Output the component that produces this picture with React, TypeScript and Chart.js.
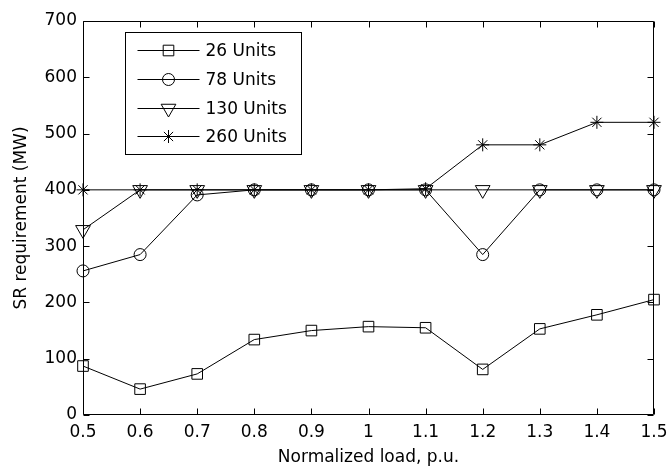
import React, { useEffect, useRef } from 'react';
import { Chart, registerables } from 'chart.js';
import { drawPoint } from 'chart.js/helpers';

Chart.register(...registerables);

const loadLabels = ['0.5', '0.6', '0.7', '0.8', '0.9', '1', '1.1', '1.2', '1.3', '1.4', '1.5'];
const units26 = [87, 46, 73, 134, 150, 157, 155, 81, 153, 178, 205];
const units78 = [256, 285, 391, 400, 400, 400, 400, 285, 400, 400, 400];
const units130 = [329, 400, 400, 400, 400, 400, 400, 400, 400, 400, 400];
const units260 = [400, 400, 400, 400, 400, 400, 402, 480, 480, 520, 520];
const seriesNames = ['26 Units', '78 Units', '130 Units', '260 Units'];

const FONT = "'DejaVu Sans', sans-serif";

const framePlugin = {
  id: 'frameTicks',
  beforeDatasetsDraw(chart: any) {
    const { ctx, chartArea: a, scales } = chart;
    const x = scales.x;
    const y = scales.y;
    const L = Math.round(a.left) + 0.5;
    const R = Math.round(a.right) - 0.5;
    const T = Math.round(a.top) + 0.5;
    const B = Math.round(a.bottom) - 0.5;
    ctx.save();
    ctx.strokeStyle = '#000';
    ctx.lineWidth = 1;
    ctx.beginPath();
    ctx.rect(L, T, R - L, B - T);
    const tl = 6;
    loadLabels.forEach((_, i) => {
      const px = Math.round(x.getPixelForValue(i)) + 0.5;
      ctx.moveTo(px, B);
      ctx.lineTo(px, B - tl);
      ctx.moveTo(px, T);
      ctx.lineTo(px, T + tl);
    });
    y.ticks.forEach((t: any) => {
      const py = Math.round(y.getPixelForValue(t.value)) + 0.5;
      ctx.moveTo(L, py);
      ctx.lineTo(L + tl, py);
      ctx.moveTo(R, py);
      ctx.lineTo(R - tl, py);
    });
    ctx.stroke();
    ctx.restore();
  },
};

const legendPlugin = {
  id: 'insideLegend',
  afterDraw(chart: any) {
    const { ctx, chartArea: a } = chart;
    const left = Math.round(a.left + 42) + 0.5;
    const top = Math.round(a.top + 11) + 0.5;
    const w = 176;
    const h = 122;
    ctx.save();
    ctx.fillStyle = '#fff';
    ctx.strokeStyle = '#000';
    ctx.lineWidth = 1;
    ctx.fillRect(left, top, w, h);
    ctx.strokeRect(left, top, w, h);
    ctx.font = `17px ${FONT}`;
    ctx.textBaseline = 'middle';
    ctx.textAlign = 'left';
    chart.data.datasets.forEach((ds: any, i: number) => {
      const cy = Math.round(top + 17.5 + i * 28.8) + 0.5;
      ctx.strokeStyle = '#000';
      ctx.lineWidth = 1;
      ctx.beginPath();
      ctx.moveTo(left + 12, cy);
      ctx.lineTo(left + 74, cy);
      ctx.stroke();
      ctx.fillStyle = 'rgba(0,0,0,0)';
      drawPoint(ctx, {
        pointStyle: ds.pointStyle,
        radius: ds.pointRadius,
        rotation: ds.pointRotation || 0,
        borderWidth: 1,
      } as any, left + 43, cy);
      ctx.fillStyle = '#000';
      ctx.fillText(ds.label, left + 80, cy + 1);
    });
    ctx.restore();
  },
};

export default function App() {
  const ref = useRef<HTMLCanvasElement | null>(null);
  useEffect(() => {
    if (!ref.current) return;
    const common = {
      borderColor: '#000',
      borderWidth: 1,
      pointBorderColor: '#000',
      pointBackgroundColor: 'rgba(0,0,0,0)',
      pointBorderWidth: 1,
      tension: 0,
      clip: false as any,
    };
    const chart = new Chart(ref.current, {
      type: 'line',
      data: {
        labels: loadLabels,
        datasets: [
          { ...common, label: seriesNames[0], data: units26, pointStyle: 'rect', pointRadius: 7.5 },
          { ...common, label: seriesNames[1], data: units78, pointStyle: 'circle', pointRadius: 6 },
          { ...common, label: seriesNames[2], data: units130, pointStyle: 'triangle', pointRotation: 180, pointRadius: 8.5 },
          { ...common, label: seriesNames[3], data: units260, pointStyle: 'star', pointRadius: 6.5 },
        ] as any,
      },
      options: {
        responsive: false,
        animation: false,
        layout: { padding: { left: 0, right: 14, top: 21, bottom: 0 } },
        plugins: { legend: { display: false }, tooltip: { enabled: false } },
        scales: {
          x: {
            type: 'category',
            offset: false,
            grid: { display: false, drawTicks: false },
            border: { display: false },
            ticks: { color: '#000', font: { family: FONT, size: 17 }, padding: 7, maxRotation: 0, autoSkip: false },
            title: { display: true, text: 'Normalized load, p.u.', color: '#000', font: { family: FONT, size: 17 }, padding: { top: 0, bottom: 2 } },
            afterFit: (s: any) => { s.height = 55; s.paddingLeft = 0; s.paddingRight = 0; },
          },
          y: {
            min: 0,
            max: 700,
            ticks: { stepSize: 100, color: '#000', font: { family: FONT, size: 17 }, padding: 6 },
            grid: { display: false, drawTicks: false },
            border: { display: false },
            title: { display: true, text: 'SR requirement (MW)', color: '#000', font: { family: FONT, size: 17 }, padding: { top: 11, bottom: 0 } },
            afterFit: (s: any) => { s.width = 83; s.paddingTop = 0; s.paddingBottom = 0; },
          },
        },
      },
      plugins: [framePlugin, legendPlugin],
    });
    return () => chart.destroy();
  }, []);
  return (
    <div style={{ position: 'fixed', left: 0, top: 0, width: 668, height: 470, background: '#fff' }}>
      <canvas ref={ref} width={668} height={470} style={{ display: 'block' }} />
    </div>
  );
}
